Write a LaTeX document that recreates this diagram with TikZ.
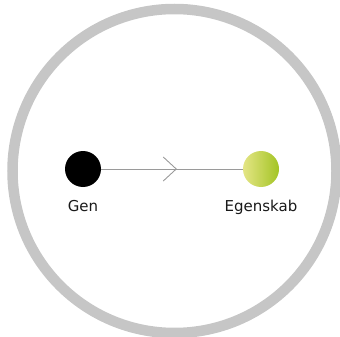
\documentclass[tikz,border=0pt]{standalone}
\usepackage{fontspec}
\setmainfont{DejaVu Sans}
\usetikzlibrary{decorations.markings}
\definecolor{ringgray}{HTML}{C6C6C6}
\definecolor{linkgray}{HTML}{9A9A9A}
\definecolor{traitlight}{HTML}{E4E585}
\definecolor{traitdark}{HTML}{A3C424}
\tikzset{
  dot/.style={circle, minimum size=36pt, inner sep=0pt},
  caption/.style={anchor=base, font=\fontsize{15}{18}\selectfont, text=black!90},
  link/.style={draw=linkgray, line width=0.9pt,
    postaction={decorate},
    decoration={markings, mark=at position 0.53 with {
      \draw[linkgray, line width=0.9pt] (-13pt,12pt) -- (0,0) -- (-13pt,-12pt);}}}
}
\begin{document}
\begin{tikzpicture}[x=1pt, y=-1pt]
  \useasboundingbox (0,0) rectangle (340,337);
  % outer ring
  \draw[ringgray, line width=10.5pt] (174.5,171) circle (162);
  % the two states
  \node[dot, fill=black] (gen) at (83,169) {};
  \node[dot, left color=traitlight, right color=traitdark, shading angle=90] (trait) at (261,169) {};
  \node[caption] (genlbl) at (83,211) {Gen};
  \node[caption] (traitlbl) at (261,211) {Egenskab};
  % connector
  \path[link] (gen.east) -- (trait.west);
\end{tikzpicture}
\end{document}
